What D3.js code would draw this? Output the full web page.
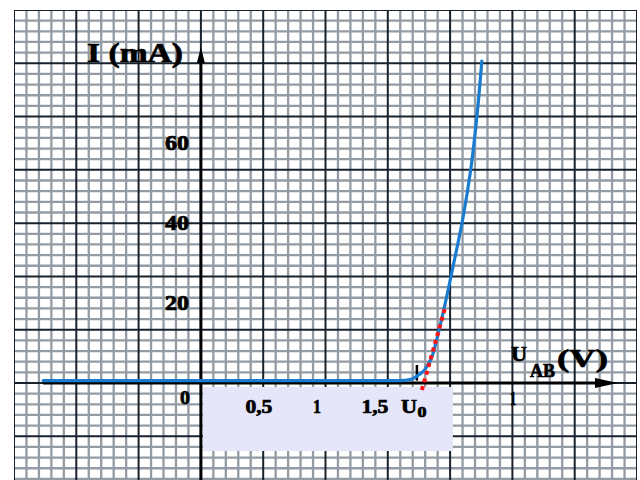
<!DOCTYPE html>
<html><head><meta charset="utf-8">
<script src="https://cdn.jsdelivr.net/npm/d3@7"></script>
<style>html,body{margin:0;padding:0;background:#fff;} svg{display:block;}</style>
</head><body>
<svg id="c" width="640" height="480"></svg>
<script>
// ---- data (U in volts, I in mA) ----
const curveU = [-1.36, 1.60, 1.70, 1.776, 1.82, 1.862, 1.90, 1.931, 1.96, 1.991, 2.043, 2.103, 2.162, 2.259, 2.328, 2.379, 2.422];
const curveI = [0.6, 0.6, 0.6, 0.7, 1.0, 1.7, 2.5, 3.4, 4.7, 6.5, 12, 19.5, 27.5, 41.25, 53.75, 66.5, 80.5];
const tangentU = [1.905, 2.112];
const tangentI = [-1.75, 19.5];
const yTickValues = [20, 40, 60];
const yTickLabels = ["20", "40", "60"];
const xTickValues = [0.5, 1, 1.5];
const xTickLabels = ["0,5", "1", "1,5"];
const U0 = 1.862;
const extraTickValue = 2.69;
const extraTickLabel = "1";

const svg = d3.select("#c");
const FONT = "'Liberation Serif','Times New Roman',serif";

// grid scales (major squares)
const gx = d3.scaleLinear().domain([-3, 7]).range([14, 637]);
const gy = d3.scaleLinear().domain([7, 0]).range([10, 383]);
// value scales
const x = d3.scaleLinear().domain([0, 1]).range([gx(0), gx(0) + 116]);
const y = d3.scaleLinear().domain([0, 80]).range([gy(0), gy(0) - 320]);

svg.append("rect").attr("width", 640).attr("height", 480).attr("fill", "#fff");

svg.append("clipPath").attr("id", "gclip")
  .append("rect").attr("x", gx(-3)).attr("y", gy(7)).attr("width", gx(7) - gx(-3)).attr("height", 480 - gy(7));
const grid = svg.append("g").attr("clip-path", "url(#gclip)");

const vMinor = d3.range(-15, 36).filter(k => k % 5 !== 0).map(k => k / 5);
const hMinor = d3.range(-9, 36).filter(k => k % 5 !== 0).map(k => k / 5);
const vMajor = d3.range(-3, 8);
const hMajor = d3.range(-1, 8);

grid.selectAll(".vm").data(vMinor).join("line")
  .attr("x1", d => gx(d)).attr("x2", d => gx(d)).attr("y1", gy(7)).attr("y2", 480)
  .attr("stroke", "#939ca5").attr("stroke-width", 2.3);
grid.selectAll(".hm").data(hMinor).join("line")
  .attr("y1", d => gy(d)).attr("y2", d => gy(d)).attr("x1", gx(-3)).attr("x2", gx(7))
  .attr("stroke", "#939ca5").attr("stroke-width", 2.3);
grid.selectAll(".vM").data(vMajor).join("line")
  .attr("x1", d => gx(d)).attr("x2", d => gx(d)).attr("y1", gy(7)).attr("y2", 480)
  .attr("stroke", "#18222c").attr("stroke-width", 2);
grid.selectAll(".hM").data(hMajor).join("line")
  .attr("y1", d => gy(d)).attr("y2", d => gy(d)).attr("x1", gx(-3)).attr("x2", gx(7))
  .attr("stroke", "#18222c").attr("stroke-width", 2);

// label box
svg.append("rect").attr("x", gx(0) + 2).attr("y", gy(0) + 4)
  .attr("width", 250).attr("height", 64).attr("fill", "#e6e6fa");

// axes
svg.append("line").attr("x1", x(curveU[0])).attr("x2", 600).attr("y1", y(0)).attr("y2", y(0))
  .attr("stroke", "#000").attr("stroke-width", 3);
svg.append("path").attr("d", `M${618},${y(0)} L${595},${y(0) - 5} L${595},${y(0) + 5} Z`).attr("fill", "#000");
svg.append("line").attr("x1", x(0)).attr("x2", x(0)).attr("y1", 60).attr("y2", 480)
  .attr("stroke", "#000").attr("stroke-width", 3);
svg.append("path").attr("d", `M${x(0)},47 L${x(0) - 4},63 L${x(0) + 4},63 Z`).attr("fill", "#000");

// U0 tick
svg.append("line").attr("x1", x(U0)).attr("x2", x(U0)).attr("y1", y(0.6)).attr("y2", y(4.5))
  .attr("stroke", "#000").attr("stroke-width", 2.5);

// curve
const pts = curveU.map((u, i) => [u, curveI[i]]);
svg.append("path").datum(pts)
  .attr("d", d3.line().x(d => x(d[0])).y(d => y(d[1])).curve(d3.curveCatmullRom.alpha(0.5)))
  .attr("fill", "none").attr("stroke", "#1a7cd0").attr("stroke-width", 3.2).attr("stroke-linecap", "round");

// tangent
const tpts = tangentU.map((u, i) => [u, tangentI[i]]);
svg.append("path").datum(tpts)
  .attr("d", d3.line().x(d => x(d[0])).y(d => y(d[1])))
  .attr("fill", "none").attr("stroke", "#ff1414").attr("stroke-width", 4)
  .attr("stroke-dasharray", "4 4");

// texts
function txt(t, px, py, fs, len, anchor) {
  const e = svg.append("text").attr("x", px).attr("y", py)
    .attr("font-family", FONT).attr("font-weight", "bold").attr("font-size", fs)
    .attr("fill", "#000").attr("stroke", "#000").attr("stroke-width", 0.7)
    .attr("text-anchor", anchor || "start").text(t);
  if (len) e.attr("textLength", len).attr("lengthAdjust", "spacingAndGlyphs");
  return e;
}
txt("I (mA)", 87, 62, 28, 96);
yTickValues.forEach((v, i) => txt(yTickLabels[i], 189, y(v) + 7, 20, 24, "end"));
txt("0", x(0) - 16, 404, 19, 10, "middle");
xTickValues.forEach((v, i) => txt(xTickLabels[i], x(v), 413, 19, xTickLabels[i].length > 1 ? 27 : 8, "middle"));
txt("U", x(U0) + 0, 413, 19, 16, "end");
txt("0", x(U0) + 0.5, 417, 14, 9, "start");
txt(extraTickLabel, x(extraTickValue), 405, 18, 6, "middle");
txt("U", 511, 361, 22, 16);
txt("AB", 530, 377, 18, 25);
txt("(V)", 557, 367, 26, 51);
</script>
</body></html>
